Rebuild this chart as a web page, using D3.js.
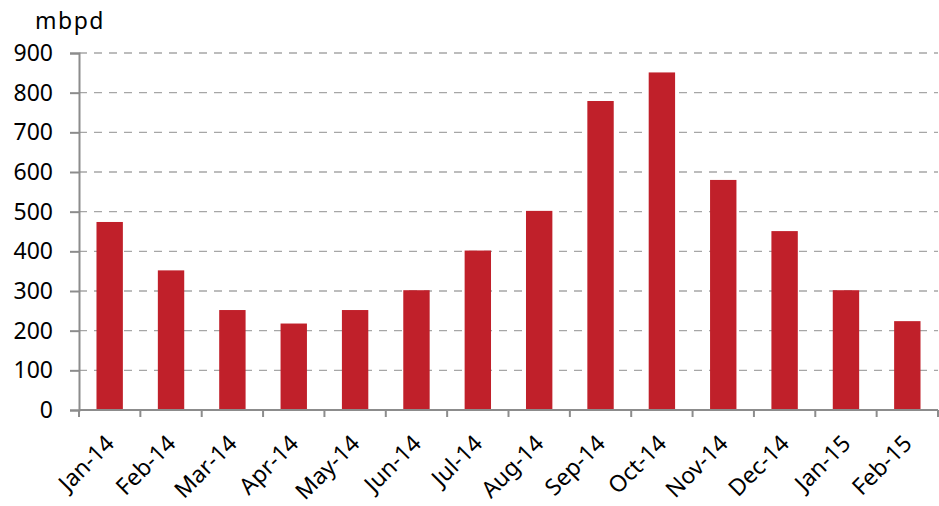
<!DOCTYPE html>
<html>
<head>
<meta charset="utf-8">
<script src="https://cdn.jsdelivr.net/npm/d3@7"></script>
<style>
  body { margin: 0; background: #fff; }
  text { font-family: "Noto Sans", "Open Sans", sans-serif; }
</style>
</head>
<body>
<div id="graph"></div>
<script>
// data
var months = ["Jan-14", "Feb-14", "Mar-14", "Apr-14", "May-14", "Jun-14", "Jul-14",
              "Aug-14", "Sep-14", "Oct-14", "Nov-14", "Dec-14", "Jan-15", "Feb-15"];
var values = [474, 352, 252, 218, 252, 302, 402, 502, 779, 851, 580, 451, 302, 224];
var yTicks = [0, 100, 200, 300, 400, 500, 600, 700, 800, 900];

var margin = {top: 53, right: 1, bottom: 96, left: 79},
    width = 939 - margin.left - margin.right,
    height = 506 - margin.top - margin.bottom;

var svg = d3.select("#graph")
  .append("svg")
    .attr("width", 939)
    .attr("height", 506)
  .append("g")
    .attr("transform", "translate(" + margin.left + "," + margin.top + ")");

var x = d3.scaleBand().domain(months).range([0, width]).paddingInner(0.57).paddingOuter(0.285);
var xb = d3.scaleBand().domain(months).range([0, width]);
var y = d3.scaleLinear().domain([0, 900]).range([height, 0]);

// dashed gridlines
svg.selectAll(".grid")
  .data(yTicks.slice(1))
  .enter().append("line")
    .attr("x1", 0)
    .attr("x2", width)
    .attr("y1", function(d) { return y(d); })
    .attr("y2", function(d) { return y(d); })
    .attr("stroke", "#a6a6a6")
    .attr("stroke-width", 1.3)
    .attr("stroke-dasharray", "8,7");

// bars
svg.selectAll(".bar")
  .data(values)
  .enter().append("rect")
    .attr("x", function(d, i) { return x(months[i]); })
    .attr("width", x.bandwidth())
    .attr("y", function(d) { return y(d); })
    .attr("height", function(d) { return height - y(d); })
    .attr("fill", "#c0202a");

// y axis
var yAxis = svg.append("g")
  .call(d3.axisLeft(y).tickValues(yTicks).tickSize(9).tickPadding(17));
yAxis.select(".domain").attr("stroke", "#8c8c8c").attr("stroke-width", 2);
yAxis.selectAll(".tick line").attr("stroke", "#8c8c8c").attr("stroke-width", 2);
yAxis.selectAll(".tick text")
  .attr("font-size", 23)
  .attr("fill", "#000")
  .style("font-family", "'Noto Sans', sans-serif");

// x axis: tick marks at band edges
var xAxis = svg.append("g")
  .attr("transform", "translate(0," + height + ")");
xAxis.append("line")
  .attr("x1", 0).attr("x2", width)
  .attr("stroke", "#8c8c8c").attr("stroke-width", 2);
xAxis.selectAll(".xt")
  .data(months.concat(["end"]))
  .enter().append("line")
    .attr("x1", function(d, i) { return i < months.length ? xb(d) : width; })
    .attr("x2", function(d, i) { return i < months.length ? xb(d) : width; })
    .attr("y1", 0).attr("y2", 7)
    .attr("stroke", "#8c8c8c").attr("stroke-width", 2);

xAxis.selectAll(".xl")
  .data(months)
  .enter().append("text")
    .attr("transform", function(d) {
      return "translate(" + (xb(d) + xb.bandwidth() / 2 + 6) + ",35) rotate(-45)";
    })
    .attr("text-anchor", "end")
    .attr("font-size", 23)
    .attr("fill", "#000")
    .text(function(d) { return d; });

// unit label
svg.append("text")
  .attr("x", -44)
  .attr("y", -24)
  .attr("font-size", 23)
  .attr("letter-spacing", 1.5)
  .attr("fill", "#000")
  .text("mbpd");
</script>
</body>
</html>
